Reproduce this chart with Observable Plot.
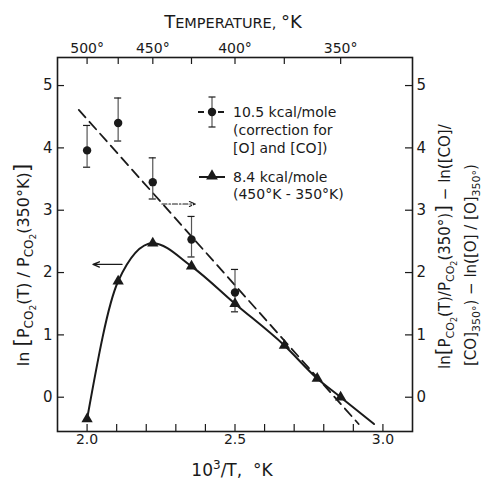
<!DOCTYPE html>
<html><head><meta charset="utf-8">
<script src="https://cdn.jsdelivr.net/npm/d3@7"></script>
<script src="https://cdn.jsdelivr.net/npm/@observablehq/plot@0.6"></script>
<style>
body{margin:0;background:#fff;}
#chart{position:relative;width:486px;height:479px;}
</style></head><body><div id="chart"></div>
<script>
// ---- data ----
// triangles: 8.4 kcal/mole series (x = 10^3/T)
const triX = [2.0, 2.105, 2.222, 2.353, 2.5, 2.667, 2.778, 2.857];
const triY = [-0.35, 1.86, 2.47, 2.10, 1.50, 0.83, 0.30, 0.0];
// solid curve continues past last triangle
const curveEndX = [2.97];
const curveEndY = [-0.43];
// circles with error bars: 10.5 kcal/mole (corrected)
const cirX = [2.0, 2.105, 2.222, 2.353, 2.5];
const cirY = [3.96, 4.40, 3.45, 2.53, 1.68];
const cirLo = [3.69, 4.11, 3.18, 2.25, 1.37];
const cirHi = [4.36, 4.80, 3.84, 2.90, 2.05];
// dashed straight-line fit endpoints
const fitX = [1.972, 2.918];
const fitY = [4.61, -0.43];
// annotation arrows (which axis each curve belongs to)
const arrowLeft = {x1: 2.118, x2: 2.02, y: 2.13};
const arrowRight = {x1: 2.253, x2: 2.366, y: 3.10};
// ticks and labels
const xMinor = [2.0, 2.1, 2.2, 2.3, 2.4, 2.5, 2.6, 2.7, 2.8, 2.9, 3.0];
const xLabels = [2.0, 2.5, 3.0];
const topTemps = [500, 475, 450, 425, 400, 375, 350];
const topLabels = [500, 450, 400, 350];
const yTicks = [0, 1, 2, 3, 4, 5];

// ---- tables built from the arrays ----
const tri = triX.map((x, i) => ({x, y: triY[i]}));
const curvePts = tri.concat(curveEndX.map((x, i) => ({x, y: curveEndY[i]})));
const cir = cirX.map((x, i) => ({x, y: cirY[i], lo: cirLo[i], hi: cirHi[i]}));
const fit = fitX.map((x, i) => ({x, y: fitY[i]}));

const W = 486, H = 479, mT = 57, mL = 57, mR = 74, mB = 48;
const innerW = W - mL - mR, innerH = H - mT - mB;
const tickLen = 7;
const ink = "#1a1a1a";
const capW = 0.012;

const svg = Plot.plot({
  width: W, height: H,
  marginTop: mT, marginLeft: mL, marginRight: mR, marginBottom: mB,
  x: {domain: [1.9, 3.1], axis: null},
  y: {domain: [-0.55, 5.45], axis: null},
  style: {fontFamily: "DejaVu Sans, sans-serif", fontSize: "14px", background: "#fff", color: ink, overflow: "visible"},
  marks: [
    Plot.frame({stroke: ink, strokeWidth: 1.6}),
    // inward ticks
    Plot.tickX(xMinor, {x: d => d, insetTop: innerH - tickLen, stroke: ink, strokeWidth: 1.2}),
    Plot.tickX(topTemps, {x: t => 1000 / t, insetBottom: innerH - tickLen, stroke: ink, strokeWidth: 1.2}),
    Plot.tickY(yTicks, {y: d => d, insetRight: innerW - tickLen, stroke: ink, strokeWidth: 1.2}),
    Plot.tickY(yTicks, {y: d => d, insetLeft: innerW - tickLen, stroke: ink, strokeWidth: 1.2}),
    // tick labels
    Plot.text(xLabels, {x: d => d, text: d => d.toFixed(1), frameAnchor: "bottom", dy: 12, fontSize: 14, fill: ink}),
    Plot.text(topLabels, {x: t => 1000 / t, text: t => t + "°", frameAnchor: "top", dy: -14, fontSize: 14, fill: ink}),
    Plot.text(yTicks, {y: d => d, text: d => String(d), frameAnchor: "left", textAnchor: "end", dx: -5, fontSize: 15, fill: ink}),
    Plot.text(yTicks, {y: d => d, text: d => String(d), frameAnchor: "right", textAnchor: "start", dx: 4, fontSize: 15, fill: ink}),
    // dashed fit
    Plot.line(fit, {x: "x", y: "y", stroke: ink, strokeWidth: 1.8, strokeDasharray: "10,6"}),
    // solid curve
    Plot.line(curvePts, {x: "x", y: "y", curve: "monotone-x", stroke: ink, strokeWidth: 2}),
    // error bars
    Plot.ruleX(cir, {x: "x", y1: "lo", y2: "hi", stroke: "#555", strokeWidth: 1.2}),
    Plot.ruleY(cir, {y: "hi", x1: d => d.x - capW, x2: d => d.x + capW, stroke: ink, strokeWidth: 1.2}),
    Plot.ruleY(cir, {y: "lo", x1: d => d.x - capW, x2: d => d.x + capW, stroke: ink, strokeWidth: 1.2}),
    Plot.dot(cir, {x: "x", y: "y", r: 4.2, fill: ink, stroke: "none"}),
    Plot.dot(tri, {x: "x", y: "y", symbol: "triangle", r: 4.2, fill: ink, stroke: "none"}),
    // arrows
    Plot.arrow([arrowLeft], {x1: "x1", x2: "x2", y1: "y", y2: "y", stroke: ink, strokeWidth: 1.3, headLength: 8, headAngle: 45}),
    Plot.arrow([arrowRight], {x1: "x1", x2: "x2", y1: "y", y2: "y", stroke: ink, strokeWidth: 1.2, headLength: 8, headAngle: 45, strokeDasharray: "5,2,1.5,2"})
  ]
});
document.getElementById("chart").appendChild(svg);

// ---- titles, axis labels and legend as real text ----
const s = d3.select(svg);
const FF = "DejaVu Sans, sans-serif";
function rich(sel, segs, base) {
  let cur = 0;
  for (const g of segs) {
    const off = g.off || 0;
    sel.append("tspan").attr("dy", off - cur).attr("font-size", g.size || base).text(g.t);
    cur = off;
  }
}
// top title (small caps)
const tt = s.append("text").attr("x", 233).attr("y", 28).attr("text-anchor", "middle")
  .attr("font-family", FF).attr("fill", ink);
rich(tt, [{t: "T", size: 18}, {t: "EMPERATURE, ", size: 14.5}, {t: "°K", size: 18}], 18);

// bottom title
const bt = s.append("text").attr("x", 232).attr("y", 476).attr("text-anchor", "middle")
  .attr("font-family", FF).attr("fill", ink);
rich(bt, [{t: "10"}, {t: "3", off: -7, size: 12}, {t: "/T,  °K"}], 17);

// left label
const lt = s.append("text").attr("transform", "translate(29,265) rotate(-90)").attr("text-anchor", "middle")
  .attr("font-family", FF).attr("fill", ink);
rich(lt, [
  {t: "ln "}, {t: "[", size: 22}, {t: "P"}, {t: "CO", off: 4, size: 12}, {t: "2", off: 7, size: 9},
  {t: "(T) / P"}, {t: "CO", off: 4, size: 12}, {t: "2", off: 7, size: 9}, {t: "(350°K)"}, {t: "]", size: 22}
], 16);

// right label, two lines
const r1 = s.append("text").attr("transform", "translate(450,369) rotate(-90)").attr("text-anchor", "start")
  .attr("font-family", FF).attr("fill", ink);
rich(r1, [
  {t: "ln"}, {t: "[", size: 20}, {t: "P"}, {t: "CO", off: 4, size: 11}, {t: "2", off: 7, size: 8},
  {t: "(T)/P"}, {t: "CO", off: 4, size: 11}, {t: "2", off: 7, size: 8}, {t: "(350°)"}, {t: "]", size: 20},
  {t: " − ln([CO]/"}
], 15);
const r2 = s.append("text").attr("transform", "translate(476,366) rotate(-90)").attr("text-anchor", "start")
  .attr("font-family", FF).attr("fill", ink);
rich(r2, [
  {t: "[CO]"}, {t: "350°", off: 4, size: 11}, {t: ") − ln([O] / [O]"}, {t: "350°", off: 4, size: 11}, {t: ")", off: 0}
], 15);

// legend
const lg = s.append("g").attr("font-family", FF).attr("fill", ink).attr("font-size", 14).attr("text-anchor", "start");
// entry 1: dashed line, dot, error bar
lg.append("line").attr("x1", 198).attr("x2", 228).attr("y1", 112).attr("y2", 112)
  .attr("stroke", ink).attr("stroke-width", 1.8).attr("stroke-dasharray", "6,4");
lg.append("line").attr("x1", 212).attr("x2", 212).attr("y1", 97).attr("y2", 127).attr("stroke", "#555").attr("stroke-width", 1.2);
lg.append("line").attr("x1", 208.5).attr("x2", 215.5).attr("y1", 97).attr("y2", 97).attr("stroke", ink).attr("stroke-width", 1.2);
lg.append("line").attr("x1", 208.5).attr("x2", 215.5).attr("y1", 127).attr("y2", 127).attr("stroke", ink).attr("stroke-width", 1.2);
lg.append("circle").attr("cx", 212).attr("cy", 112).attr("r", 4.2).attr("fill", ink);
["10.5 kcal/mole", "(correction for", "[O] and [CO])"].forEach((t, i) =>
  lg.append("text").attr("x", 233).attr("y", 112 + i * 18).attr("dy", "0.35em").attr("text-anchor", "start").text(t));
// entry 2: solid line, triangle
lg.append("line").attr("x1", 199).attr("x2", 225).attr("y1", 177).attr("y2", 177)
  .attr("stroke", ink).attr("stroke-width", 2);
lg.append("path").attr("d", d3.symbol(d3.symbolTriangle, 60)()).attr("transform", "translate(212,176)").attr("fill", ink);
["8.4 kcal/mole", "(450°K - 350°K)"].forEach((t, i) =>
  lg.append("text").attr("x", 233).attr("y", 177 + i * 17).attr("dy", "0.35em").attr("text-anchor", "start").text(t));
</script>
</body></html>
